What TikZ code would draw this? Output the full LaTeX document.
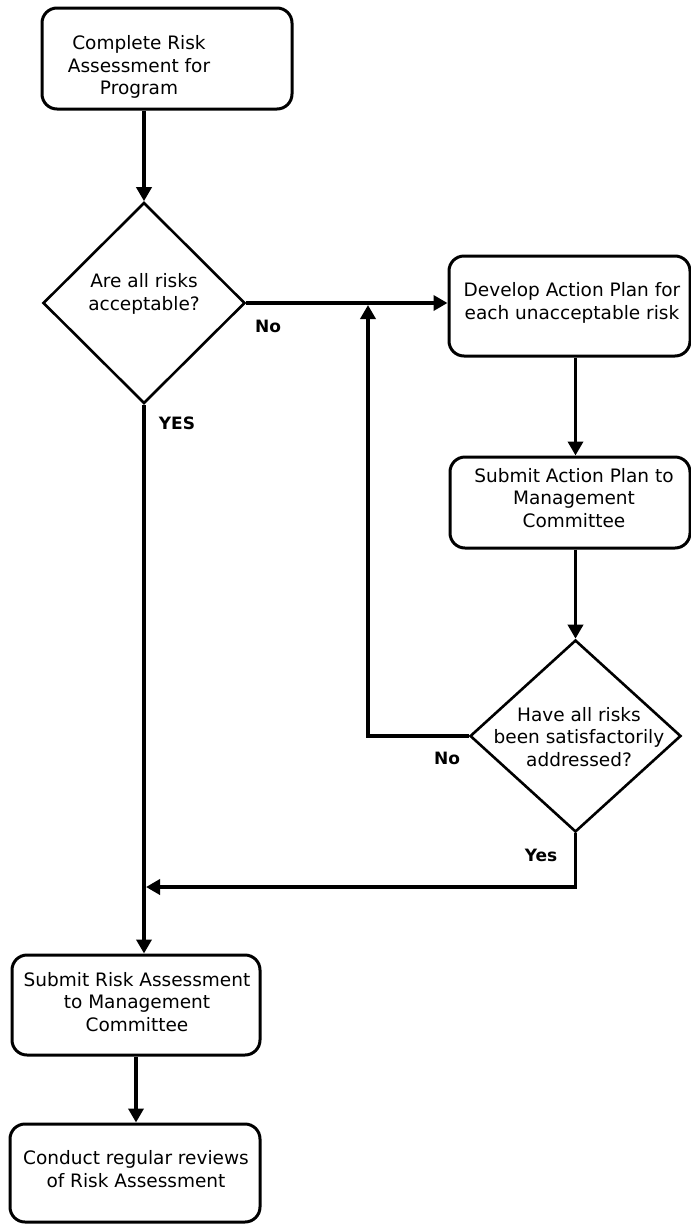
\documentclass[tikz,border=0pt]{standalone}
\usepackage{fontspec}
\setmainfont{DejaVu Sans}
\usetikzlibrary{shapes.geometric,arrows.meta}
\begin{document}
\begin{tikzpicture}[x=1pt,y=-1pt,
  boxnode/.style={draw=black,line width=3pt,rounded corners=15pt,minimum width=#1,inner sep=0pt},
  decnode/.style={draw=black,line width=2.6pt,shape=diamond,inner sep=0pt},
  txt/.style={align=center,inner sep=0pt,font=\fontsize{18.5}{22.8}\selectfont},
  lbl/.style={inner sep=0pt,font=\fontsize{17}{20}\selectfont\bfseries},
  conn/.style={draw=black,line width=3.5pt},
  arr/.style={conn,-{Triangle[length=14pt,width=15pt]}}]
\useasboundingbox (0,0) rectangle (691,1224);
\fill[white] (0,0) rectangle (691,1224);
% boxes
\node[boxnode=250pt,minimum height=101pt] (b1) at (167,58.5) {};
\node[boxnode=241pt,minimum height=100pt] (b2) at (569.5,306) {};
\node[boxnode=240pt,minimum height=91pt] (b3) at (570,502.5) {};
\node[boxnode=248pt,minimum height=100pt] (b4) at (136,1005) {};
\node[boxnode=250pt,minimum height=98pt] (b5) at (135,1173) {};
% decisions
\node[decnode,minimum width=202pt,minimum height=201pt] (d1) at (144,303) {};
\node[decnode,minimum width=211pt,minimum height=192pt] (d2) at (575.5,736) {};
% texts
\node[txt] (t1) at (139,67) {Complete Risk\\Assessment for\\Program};
\node[txt] (t2) at (572,303) {Develop Action Plan for\\each unacceptable risk};
\node[txt] (t3) at (574,498) {Submit Action Plan to\\Management\\Committee};
\node[txt] (t4) at (144,294) {Are all risks\\acceptable?};
\node[txt] (t5) at (579,737) {Have all risks\\been satisfactorily\\addressed?};
\node[txt] (t6) at (137,1002) {Submit Risk Assessment\\to Management\\Committee};
\node[txt] (t7) at (136,1169) {Conduct regular reviews\\of Risk Assessment};
% labels
\node[lbl] (l1) at (268,326) {No};
\node[lbl] (l2) at (177,423) {YES};
\node[lbl] (l3) at (447,758) {No};
\node[lbl] (l4) at (541,855) {Yes};
% junctions
\coordinate (j1) at (368,305);
\coordinate (j2) at (146,887);
% connectors
\draw[arr] (b1.south -| d1.north) -- (d1.north);
\draw[arr] (d1.east) -- (d1.east -| b2.west);
\draw[arr] (b2.south -| d2.north) -- (b3.north -| d2.north);
\draw[arr] (b3.south -| d2.north) -- (d2.north);
\draw[arr] (d2.west) -| (j1);
\draw[arr] (d2.south) |- (j2);
\draw[arr] (d1.south) -- (b4.north -| d1.south);
\draw[arr] (b4.south) -- (b4.south |- b5.north);
\end{tikzpicture}
\end{document}
